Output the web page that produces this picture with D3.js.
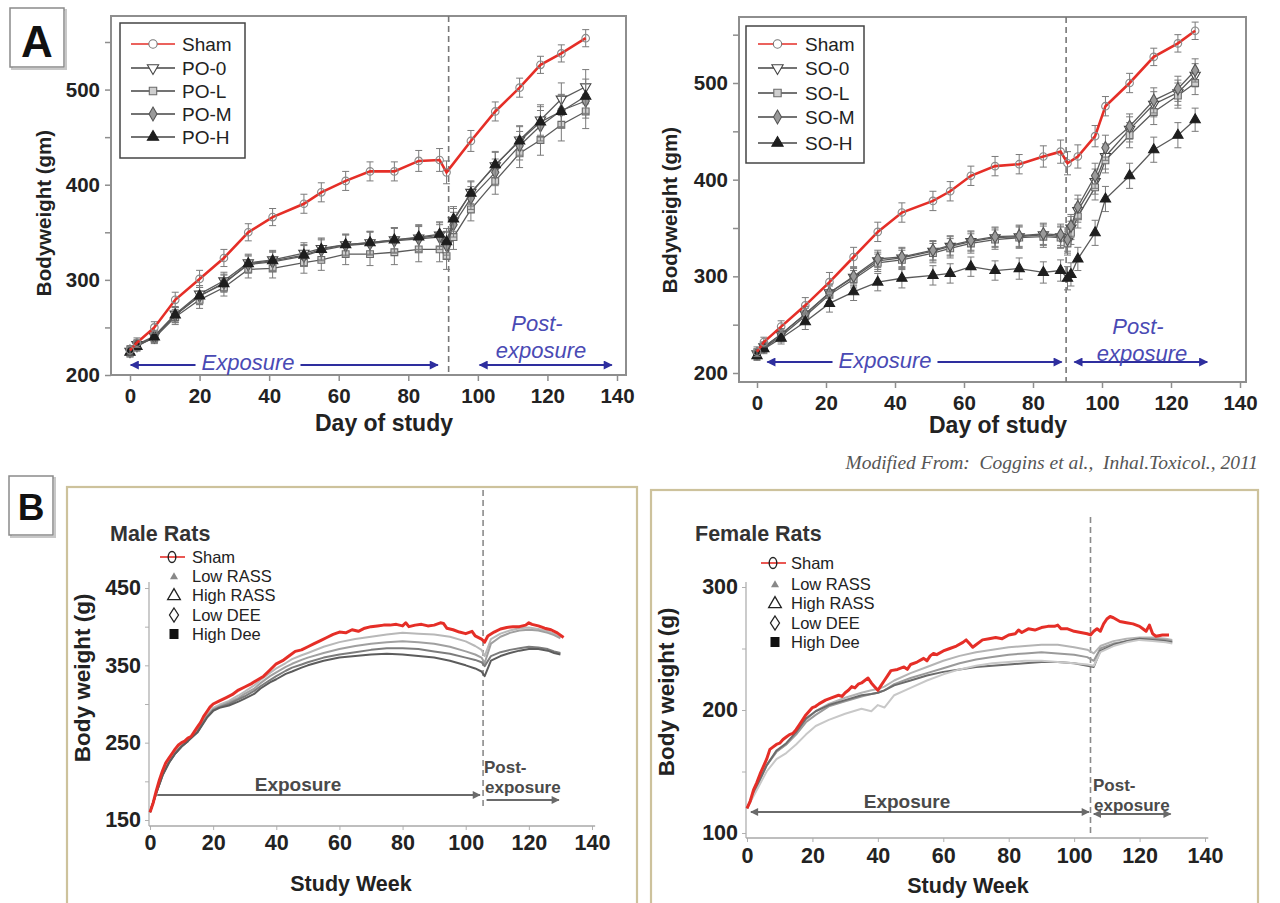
<!DOCTYPE html>
<html><head><meta charset="utf-8">
<script src="https://cdn.jsdelivr.net/npm/d3@7/dist/d3.min.js"></script>
<style>
body{margin:0;background:#fff}
svg{display:block}
text{font-family:"Liberation Sans",Arial,sans-serif}
</style>
</head><body>
<svg id="c" width="1280" height="903"></svg>
<script>
// ---------------- Panel A (left): PO groups ----------------
const poShamDays = [0,2,7,13,20,27,34,41,50,55,62,69,76,83,89,91,98,105,112,118,124,131];
const poSham     = [226,234,250,279,301,323,350,366,380,392,404,414,414,425,426,413,446,477,502,526,538,554];
const poShamSE   = [5,5,6,8,9,9,9,9,10,10,10,10,10,11,12,12,11,10,10,9,9,9];
const poTrtDays  = [0,2,7,13,20,27,34,41,50,55,62,69,76,83,89,91,93,98,105,112,118,124,131];
const po0 = [225,232,241,264,285,299,318,321,328,333,337,339,342,344,347,337,362,392,420,447,468,490,503];
const poL = [224,231,239,261,279,292,311,312,318,321,327,327,329,332,332,325,345,374,404,433,447,463,477];
const poM = [225,231,240,263,283,297,316,319,325,331,336,338,341,343,345,336,358,386,413,441,462,478,488];
const poH = [224,230,240,263,283,296,317,320,326,332,337,339,342,345,348,340,364,391,421,446,466,477,493];
const poTrtSE = [5,5,6,8,9,9,9,10,11,11,11,12,13,13,13,14,13,12,14,15,16,17,18];
const poLabels = ["Sham","PO-0","PO-L","PO-M","PO-H"];

// ---------------- Panel A (right): SO groups ----------------
const soShamDays = [0,2,7,14,21,28,35,42,51,56,62,69,76,83,88,90,93,98,101,108,115,122,127];
const soSham     = [222,232,248,270,294,320,346,366,378,388,404,414,416,424,429,417,424,445,476,500,527,541,554];
const soShamSE   = [5,5,6,8,10,10,10,10,10,10,10,10,10,11,12,12,12,11,10,10,9,9,9];
const soTrtDays  = [0,2,7,14,21,28,35,42,51,56,62,69,76,83,88,90,91,93,98,101,108,115,122,127];
const so0 = [220,227,240,261,283,299,316,319,326,331,336,340,341,343,341,336,350,368,398,424,452,478,490,508];
const soL = [219,226,238,259,281,297,314,317,324,329,334,338,340,341,340,334,345,362,392,420,446,470,487,500];
const soM = [220,227,240,261,283,300,318,320,327,332,337,341,342,344,343,338,352,372,404,433,455,482,494,513];
const soH = [218,225,236,253,272,284,294,298,301,303,310,306,308,304,306,298,302,318,345,380,404,431,446,462];
const soTrtSE = [5,5,6,8,9,9,9,10,10,10,10,10,11,11,11,12,12,12,13,13,13,13,13,12];
const soLabels = ["Sham","SO-0","SO-L","SO-M","SO-H"];

const aYTicks = [200,250,300,350,400,450,500,550];
const aXTicks = [0,20,40,60,80,100,120,140];

// ---------------- Panel B (male) ----------------
const maleShamWeeks = [0,1,2,3,4,5,6,7,8,9,10,11,12,13,14,15,16,17,18,19,20,22,24,26,28,30,32,34,36,38,40,42,44,46,48,50,52,54,56,58,60,62,64,66,68,70,72,74,76,78,80,81,82,84,86,88,90,92,93,94,96,98,100,102,103,105,106,107,109,111,113,115,117,119,120,121,123,125,127,129,131];
const maleSham = [160,172,188,202,214,224,230,236,242,247,250,252,256,258,264,270,276,284,290,296,300,304,308,312,318,322,326,331,336,344,352,356,362,368,370,374,378,382,386,390,393,392,396,394,398,400,401,402,402,403,401,405,400,402,403,401,402,405,404,398,396,393,391,394,388,384,380,388,393,397,399,400,400,402,405,403,401,398,396,392,386];
const maleTrtWeeks = [0,2,4,6,8,10,12,15,18,20,22,25,28,30,33,35,38,40,43,45,48,50,55,60,65,70,75,80,85,90,95,100,103,105,106,108,111,114,117,120,123,126,128,130];
const maleLowRASS  = [160,186,210,226,238,247,253,266,286,295,299,304,311,316,324,331,340,346,353,358,363,366,374,380,384,387,390,392,391,390,387,381,375,370,362,384,391,395,398,399,397,394,391,387];
const maleHighRASS = [160,185,208,224,236,245,252,264,284,293,297,302,308,313,320,327,336,341,348,352,357,360,366,371,375,378,380,381,380,378,374,368,364,360,353,378,387,392,395,396,395,392,389,385];
const maleLowDEE   = [160,185,208,224,236,245,252,264,283,292,296,300,306,310,317,323,331,336,343,347,351,354,360,364,367,370,372,372,371,368,365,360,357,354,349,362,367,370,372,374,373,371,368,366];
const maleHighDee  = [160,185,208,224,236,245,252,263,282,291,295,298,303,307,313,320,328,332,339,342,347,350,356,360,362,364,365,364,362,360,356,350,346,342,336,356,362,366,369,371,371,369,366,364];

// ---------------- Panel B (female) ----------------
const femShamWeeks = [0,1,2,3,4,5,6,7,8,9,10,11,12,13,14,15,16,17,18,19,20,21,22,24,26,28,29,30,31,32,33,34,35,36,37,38,39,40,41,42,43,44,46,48,49,50,52,54,55,56,57,58,60,62,64,66,67,68,69,70,72,74,76,78,80,82,83,84,86,88,90,92,94,95,96,98,100,102,104,105,106,107,108,109,110,111,112,114,116,118,120,121,122,123,124,125,127,129];
const femSham = [120,126,135,141,148,154,160,168,170,172,173,176,178,180,181,184,188,192,196,199,202,203,205,208,210,212,211,214,216,219,218,221,222,224,226,222,219,216,220,224,228,232,233,235,233,237,239,242,240,244,246,245,248,250,252,255,257,254,251,253,257,258,259,258,261,262,265,263,266,265,267,268,268,269,266,266,264,263,262,261,264,266,264,270,274,276,275,272,271,270,268,266,264,269,262,260,261,261];
const femTrtWeeks = [0,3,6,9,12,15,18,21,25,30,35,38,40,42,45,50,55,60,65,70,75,80,85,90,95,100,104,106,108,112,116,120,124,128,130];
const femLowRASS  = [120,138,155,166,172,182,192,199,205,210,214,216,217,219,224,230,235,240,244,247,249,251,252,253,253,251,249,246,252,256,258,259,259,258,257];
const femHighRASS = [120,138,155,166,172,180,190,196,203,207,211,213,214,216,221,226,230,234,238,241,243,245,246,247,246,245,243,240,250,254,256,258,258,257,256];
const femLowDEE   = [120,138,155,167,173,182,193,199,204,208,212,213,214,216,220,224,228,231,233,235,236,237,238,239,239,238,236,235,248,253,256,258,257,256,255];
const femHighDee  = [120,135,150,160,165,172,180,187,192,197,201,199,204,202,212,218,224,229,233,236,238,239,240,240,239,238,237,236,247,252,255,257,256,255,254];
const bLabels = ["Sham","Low RASS","High RASS","Low DEE","High Dee"];
const bXTicks = [0,20,40,60,80,100,120,140];

// =================================================================
const svg = d3.select("#c");
const defs = svg.append("defs");
function arrowMarker(id, color, w, h) {
  defs.append("marker").attr("id", id).attr("viewBox","0 0 10 10")
    .attr("refX",9).attr("refY",5).attr("markerWidth",w).attr("markerHeight",h)
    .attr("markerUnits","userSpaceOnUse").attr("orient","auto-start-reverse")
    .append("path").attr("d","M0,0 L10,5 L0,10 z").attr("fill",color);
}
arrowMarker("ab","#2e2e9e",12,9);
arrowMarker("ag","#6a6a6a",10,8);

const BLUE = "#2e2e9e", BLUE_T = "#4a4ab4", RED = "#e52e27";

function symPath(type, size) {
  const t = {circle:d3.symbolCircle, tri:d3.symbolTriangle, square:d3.symbolSquare, diamond:d3.symbolDiamond}[type];
  return d3.symbol().type(t).size(size)();
}
const aStyles = [
  {type:"circle", rot:0, fill:"none", stroke:"#8a8a8a"},
  {type:"tri", rot:180, fill:"#fff", stroke:"#444"},
  {type:"square", rot:0, fill:"#cfcfcf", stroke:"#6a6a6a"},
  {type:"diamond", rot:0, fill:"#9a9a9a", stroke:"#555"},
  {type:"tri", rot:0, fill:"#1e1e1e", stroke:"#1e1e1e"}
];
function drawSym(g, st, x, y, size) {
  g.append("path").attr("d", symPath(st.type, size))
    .attr("transform", `translate(${x},${y}) rotate(${st.rot})`)
    .attr("fill", st.fill).attr("stroke", st.stroke).attr("stroke-width", 1.1);
}

function drawA(cfg) {
  const g = svg.append("g");
  const x = d3.scaleLinear().domain([0,140]).range(cfg.xr);
  const y = d3.scaleLinear().domain(cfg.yd).range(cfg.yr);
  const f = cfg.frame;
  g.append("rect").attr("x",f[0]).attr("y",f[1]).attr("width",f[2]-f[0]).attr("height",f[3]-f[1])
    .attr("fill","none").attr("stroke","#8e8e8e").attr("stroke-width",2);
  const ya = g.append("g").attr("transform",`translate(${f[0]},0)`)
    .call(d3.axisLeft(y).tickValues(aYTicks).tickSize(6).tickPadding(5)
      .tickFormat(d => d % 100 === 0 ? d : ""));
  const xa = g.append("g").attr("transform",`translate(0,${f[3]})`)
    .call(d3.axisBottom(x).tickValues(aXTicks).tickSize(6).tickPadding(7));
  [ya, xa].forEach(a => {
    a.select(".domain").remove();
    a.selectAll(".tick line").attr("stroke","#8e8e8e").attr("stroke-width",1.5);
    a.selectAll("text").attr("font-size",20.5).attr("font-weight","bold").attr("fill","#222")
      .style("font-family",'"Liberation Sans",Arial,sans-serif');
  });
  g.append("text").attr("transform",`translate(${cfg.ylab[0]},${cfg.ylab[1]}) rotate(-90)`)
    .attr("text-anchor","middle").attr("dominant-baseline","central")
    .attr("font-size",20.5).attr("font-weight","bold").attr("fill","#222").text("Bodyweight (gm)");
  g.append("text").attr("x",cfg.xlab[0]).attr("y",cfg.xlab[1]).attr("text-anchor","middle")
    .attr("font-size",23).attr("font-weight","bold").attr("fill","#222").text("Day of study");
  g.append("line").attr("x1",x(cfg.dash)).attr("x2",x(cfg.dash)).attr("y1",f[1]).attr("y2",f[3])
    .attr("stroke","#777").attr("stroke-width",1.6).attr("stroke-dasharray","6,4");
  const ay = cfg.arrowY;
  g.append("line").attr("x1",x(cfg.expo[0])).attr("x2",x(cfg.expo[1])).attr("y1",ay).attr("y2",ay)
    .attr("stroke",BLUE).attr("stroke-width",2).attr("marker-start","url(#ab)").attr("marker-end","url(#ab)");
  g.append("line").attr("x1",x(cfg.post[0])).attr("x2",x(cfg.post[1])).attr("y1",ay).attr("y2",ay)
    .attr("stroke",BLUE).attr("stroke-width",2).attr("marker-start","url(#ab)").attr("marker-end","url(#ab)");
  const et = g.append("text").attr("x",cfg.expoText[0]).attr("y",cfg.expoText[1]).attr("text-anchor","middle")
    .attr("font-size",22).attr("font-style","italic").attr("fill",BLUE_T).text("Exposure");
  const bb = et.node().getBBox();
  g.insert("rect", () => et.node()).attr("x",bb.x-6).attr("y",ay-4).attr("width",bb.width+12).attr("height",8).attr("fill","#fff");
  g.append("text").attr("x",cfg.postText[0]).attr("y",cfg.postText[1]).attr("text-anchor","middle")
    .attr("font-size",22).attr("font-style","italic").attr("fill",BLUE_T).text("Post-");
  g.append("text").attr("x",cfg.postText[0]+4).attr("y",cfg.postText[1]+27).attr("text-anchor","middle")
    .attr("font-size",22).attr("font-style","italic").attr("fill",BLUE_T).text("exposure");
  const line = d3.line().x(d => x(d[0])).y(d => y(d[1]));
  cfg.trt.forEach((vals, i) => {
    const pts = d3.zip(cfg.trtDays, vals, cfg.trtSE);
    g.append("path").datum(pts).attr("d", line).attr("fill","none").attr("stroke","#5a5a5a").attr("stroke-width",1.3);
    pts.forEach(p => {
      const xx = x(p[0]), y1 = y(p[1]-p[2]), y2 = y(p[1]+p[2]);
      g.append("path").attr("d",`M${xx},${y1}V${y2}M${xx-3.5},${y1}H${xx+3.5}M${xx-3.5},${y2}H${xx+3.5}`)
        .attr("stroke","#7a7a7a").attr("stroke-width",1).attr("fill","none");
    });
    pts.forEach(p => drawSym(g, aStyles[i+1], x(p[0]), y(p[1]), 46));
  });
  const sp = d3.zip(cfg.shamDays, cfg.sham, cfg.shamSE);
  sp.forEach(p => {
    const xx = x(p[0]), y1 = y(p[1]-p[2]), y2 = y(p[1]+p[2]);
    g.append("path").attr("d",`M${xx},${y1}V${y2}M${xx-3.5},${y1}H${xx+3.5}M${xx-3.5},${y2}H${xx+3.5}`)
      .attr("stroke","#7a7a7a").attr("stroke-width",1).attr("fill","none");
  });
  g.append("path").datum(sp).attr("d", line).attr("fill","none").attr("stroke",RED).attr("stroke-width",2.6);
  sp.forEach(p => drawSym(g, aStyles[0], x(p[0]), y(p[1]), 45));
  const L = cfg.legend;
  g.append("rect").attr("x",L.x0).attr("y",L.y0).attr("width",L.x1-L.x0).attr("height",L.y1-L.y0)
    .attr("fill","#fff").attr("stroke","#444").attr("stroke-width",1.5);
  cfg.labels.forEach((lab, i) => {
    const yy = L.rows[i];
    g.append("line").attr("x1",L.lx[0]).attr("x2",L.lx[1]).attr("y1",yy).attr("y2",yy)
      .attr("stroke", i === 0 ? RED : "#444").attr("stroke-width", i === 0 ? 1.4 : 1.3);
    drawSym(g, i === 0 ? {type:"circle",rot:0,fill:"#fff",stroke:"#777"} : aStyles[i], (L.lx[0]+L.lx[1])/2, yy, 55);
    g.append("text").attr("x",L.tx).attr("y",yy).attr("dominant-baseline","central")
      .attr("font-size",19).attr("fill","#222").text(lab);
  });
}

drawA({
  xr:[130,617], yd:[200,550], yr:[375,42], frame:[111,16,626,375],
  ylab:[43,213], xlab:[384,431], dash:91.6,
  arrowY:365, expo:[0.2,88.5], post:[100.5,138.5],
  expoText:[248,370], postText:[537,331],
  shamDays:poShamDays, sham:poSham, shamSE:poShamSE,
  trtDays:poTrtDays, trt:[po0,poL,poM,poH], trtSE:poTrtSE, labels:poLabels,
  legend:{x0:120,y0:23,x1:245,y1:158,rows:[44,68,91,114,137],lx:[131,175],tx:182}
});
drawA({
  xr:[757,1240], yd:[200,500], yr:[373,83], frame:[739,17,1246,382],
  ylab:[669,210], xlab:[998,433], dash:89.6,
  arrowY:362, expo:[3,88.3], post:[92,130.5],
  expoText:[885,368], postText:[1138,334],
  shamDays:soShamDays, sham:soSham, shamSE:soShamSE,
  trtDays:soTrtDays, trt:[so0,soL,soM,soH], trtSE:soTrtSE, labels:soLabels,
  legend:{x0:746,y0:26,x1:864,y1:163,rows:[44,68,93,117,143],lx:[758,797],tx:805}
});

function letterBox(x0,y0,x1,y1,txt,fs,ty) {
  svg.append("rect").attr("x",x0+2).attr("y",y0+2).attr("width",x1-x0).attr("height",y1-y0)
    .attr("fill","none").attr("stroke","#c8c8c8").attr("stroke-width",2);
  svg.append("rect").attr("x",x0).attr("y",y0).attr("width",x1-x0).attr("height",y1-y0)
    .attr("fill","#fff").attr("stroke","#8a8a8a").attr("stroke-width",1.5);
  svg.append("text").attr("x",(x0+x1)/2).attr("y",ty).attr("text-anchor","middle")
    .attr("font-size",fs).attr("font-weight","bold").attr("fill","#111").text(txt);
}
letterBox(10,8,64,67,"A",44,57);
letterBox(9,476,53,535,"B",37,520);

svg.append("text").attr("x",1258).attr("y",469).attr("text-anchor","end")
  .attr("xml:space","preserve")
  .style("font-family",'"Liberation Serif","Times New Roman",serif')
  .attr("font-size",19.5).attr("font-style","italic").attr("fill","#555")
  .text("Modified From:  Coggins et al.,  Inhal.Toxicol., 2011");

const bColors = ["#b8b8b8","#a0a0a0","#7c7c7c","#5c5c5c"];
function bLegendSym(g, i, x, y) {
  if (i === 0) {
    g.append("line").attr("x1",x-12).attr("x2",x+13).attr("y1",y).attr("y2",y).attr("stroke",RED).attr("stroke-width",1.6);
    g.append("ellipse").attr("cx",x).attr("cy",y).attr("rx",3.8).attr("ry",5.5).attr("fill","none").attr("stroke","#222").attr("stroke-width",1.4);
  } else if (i === 1) {
    g.append("path").attr("d",symPath("tri",28)).attr("transform",`translate(${x},${y+1})`).attr("fill","#888");
  } else if (i === 2) {
    g.append("path").attr("d",symPath("tri",70)).attr("transform",`translate(${x},${y+1})`).attr("fill","none").attr("stroke","#222").attr("stroke-width",1.3);
  } else if (i === 3) {
    g.append("path").attr("d",`M${x},${y-7}L${x+4.5},${y}L${x},${y+7}L${x-4.5},${y}Z`).attr("fill","none").attr("stroke","#222").attr("stroke-width",1.3);
  } else {
    g.append("rect").attr("x",x-4.5).attr("y",y-5).attr("width",9).attr("height",10).attr("fill","#111");
  }
}
function drawB(cfg) {
  const g = svg.append("g");
  const f = cfg.frame;
  g.append("rect").attr("x",f[0]).attr("y",f[1]).attr("width",f[2]-f[0]).attr("height",f[3]-f[1])
    .attr("fill","none").attr("stroke","#cdc29c").attr("stroke-width",2.2);
  const x = d3.scaleLinear().domain([0,140]).range(cfg.xr);
  const y = d3.scaleLinear().domain(cfg.yd).range(cfg.yr);
  const ya = g.append("g").attr("transform",`translate(${cfg.xr[0]-1},0)`)
    .call(d3.axisLeft(y).tickValues(cfg.yTicks).tickSize(4).tickPadding(4)
      .tickFormat(d => cfg.yLab.includes(d) ? d : ""));
  ya.select(".domain").remove();
  g.append("line").attr("x1",cfg.xr[0]-1).attr("x2",cfg.xr[0]-1).attr("y1",cfg.axisY).attr("y2",cfg.yTop)
    .attr("stroke","#b0b0b0").attr("stroke-width",1.3);
  const xa = g.append("g").attr("transform",`translate(0,${cfg.axisY})`)
    .call(d3.axisBottom(x).tickValues(bXTicks).tickSize(4).tickPadding(cfg.xPad));
  xa.select(".domain").remove();
  g.append("line").attr("x1",cfg.xr[0]-1).attr("x2",x(141)).attr("y1",cfg.axisY).attr("y2",cfg.axisY)
    .attr("stroke","#a8a8a8").attr("stroke-width",1.3);
  [ya, xa].forEach(a => {
    a.selectAll(".tick line").attr("stroke","#b0b0b0");
    a.selectAll("text").attr("font-size",21.5).attr("font-weight","bold").attr("fill","#222")
      .style("font-family",'"Liberation Sans",Arial,sans-serif');
  });
  g.append("text").attr("transform",`translate(${cfg.ylab[0]},${cfg.ylab[1]}) rotate(-90)`)
    .attr("text-anchor","middle").attr("dominant-baseline","central")
    .attr("font-size",22.5).attr("font-weight","bold").attr("fill","#222").text("Body weight (g)");
  g.append("text").attr("x",cfg.xlab[0]).attr("y",cfg.xlab[1]).attr("text-anchor","middle")
    .attr("font-size",21.5).attr("font-weight","bold").attr("fill","#222").text("Study Week");
  g.append("text").attr("x",cfg.title[0]).attr("y",cfg.title[1])
    .attr("font-size",21.5).attr("font-weight","bold").attr("fill","#333").text(cfg.titleText);
  g.append("line").attr("x1",x(cfg.dash)).attr("x2",x(cfg.dash)).attr("y1",cfg.dashY[0]).attr("y2",cfg.dashY[1])
    .attr("stroke","#8a8a8a").attr("stroke-width",1.6).attr("stroke-dasharray","6,4");
  g.append("line").attr("x1",x(cfg.expo[0])).attr("x2",x(cfg.expo[1])).attr("y1",cfg.expo[2]).attr("y2",cfg.expo[2])
    .attr("stroke","#6a6a6a").attr("stroke-width",2.2).attr("marker-end","url(#ag)")
    .attr("marker-start", cfg.bothHeads ? "url(#ag)" : null);
  g.append("line").attr("x1",x(cfg.post[0])).attr("x2",x(cfg.post[1])).attr("y1",cfg.post[2]).attr("y2",cfg.post[2])
    .attr("stroke","#6a6a6a").attr("stroke-width",2.2).attr("marker-end","url(#ag)")
    .attr("marker-start", cfg.bothHeads ? "url(#ag)" : null);
  g.append("text").attr("x",cfg.expoText[0]).attr("y",cfg.expoText[1]).attr("text-anchor","middle")
    .attr("font-size",19).attr("font-weight","bold").attr("fill","#4a4a4a").text("Exposure");
  g.append("text").attr("x",cfg.postText[0]).attr("y",cfg.postText[1])
    .attr("font-size",17).attr("font-weight","bold").attr("fill","#4a4a4a").text("Post-");
  g.append("text").attr("x",cfg.postText[0]+1).attr("y",cfg.postText[1]+20)
    .attr("font-size",17).attr("font-weight","bold").attr("fill","#4a4a4a").text("exposure");
  const line = d3.line().x(d => x(d[0])).y(d => y(d[1]));
  cfg.trt.forEach((vals, i) => {
    g.append("path").datum(d3.zip(cfg.trtWeeks, vals)).attr("d", line)
      .attr("fill","none").attr("stroke", cfg.colors[i]).attr("stroke-width",2).attr("stroke-linejoin","round");
  });
  g.append("path").datum(d3.zip(cfg.shamWeeks, cfg.sham)).attr("d", line)
    .attr("fill","none").attr("stroke",RED).attr("stroke-width",3).attr("stroke-linejoin","round");
  bLabels.forEach((lab, i) => {
    const yy = cfg.legRows[i];
    bLegendSym(g, i, i === 0 ? cfg.legX - 2 : cfg.legX, yy);
    g.append("text").attr("x",cfg.legTX).attr("y",yy).attr("dominant-baseline","central")
      .attr("font-size",16.5).attr("fill","#222").text(lab);
  });
}

drawB({
  frame:[67,487,637,910], xr:[150,592], yd:[150,450], yr:[820,588],
  yTicks:[150,200,250,300,350,400,450], yLab:[150,250,350,450], yTop:582, axisY:826, xPad:5,
  ylab:[82,678], xlab:[351,891], title:[110,541], titleText:"Male Rats",
  dash:105.5, dashY:[490,806],
  expo:[2.3,104.5,795], post:[106.6,129.5,800], bothHeads:false,
  expoText:[298,791], postText:[484,773],
  shamWeeks:maleShamWeeks, sham:maleSham, trtWeeks:maleTrtWeeks,
  trt:[maleLowRASS,maleHighRASS,maleLowDEE,maleHighDee], colors:bColors,
  legRows:[557,576,595,615,634], legX:174, legTX:192
});
drawB({
  frame:[651,490,1258,910], xr:[747,1205], yd:[100,300], yr:[833,587],
  yTicks:[100,150,200,250,300], yLab:[100,200,300], yTop:582, axisY:838, xPad:6,
  ylab:[666,692], xlab:[968,893], title:[695,541], titleText:"Female Rats",
  dash:105, dashY:[517,836],
  expo:[1.2,104.5,812], post:[106,129.5,814], bothHeads:true,
  expoText:[907,808], postText:[1093,791],
  shamWeeks:femShamWeeks, sham:femSham, trtWeeks:femTrtWeeks,
  trt:[femLowRASS,femHighRASS,femLowDEE,femHighDee], colors:["#b4b4b4","#9a9a9a","#6c6c6c","#c8c8c8"],
  legRows:[563,584,603,623,642], legX:775, legTX:791
});
</script>
</body></html>
